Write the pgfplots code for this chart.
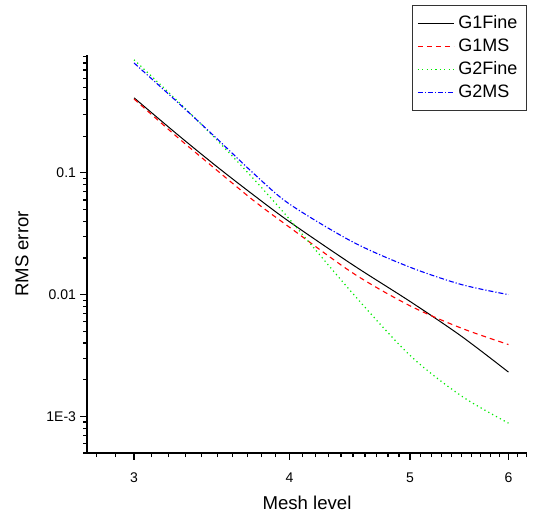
\documentclass[border=0pt]{standalone}
\usepackage{fontspec}
\setmainfont{Liberation Sans}
\usepackage{pgfplots}
\pgfplotsset{compat=1.18}

\definecolor{cred}{RGB}{255,0,0}
\definecolor{cgreen}{RGB}{0,235,0}
\definecolor{cblue}{RGB}{0,0,255}

% RMS error per mesh level
\pgfplotstableread{
x     g1fine   g1ms     g2fine   g2ms
3     0.414    0.405    0.85     0.80
3.25  0.2075   0.197    0.392    0.383
3.5   0.112    0.1045   0.185    0.190
3.75  0.0649   0.0585   0.0877   0.0975
4     0.0397   0.0358   0.0417   0.0555
4.5   0.0175   0.0150   0.01016  0.027
5     0.0088   0.0081   0.00317  0.0168
5.5   0.00455  0.0053   0.00147  0.0121
6     0.00231  0.00389  0.00088  0.0100
}\rmsdata

\begin{document}
\begin{tikzpicture}
\begin{axis}[
  scale only axis,
  width=220pt, height=199pt,
  xmode=log, ymode=log,
  xmin=2.75, xmax=6.21,
  ymin=5e-4, ymax=0.93,
  axis x line*=bottom, axis y line*=left,
  axis line style={line width=0.75pt, -},
  xtick={3,4,5,6}, xticklabels={3,4,5,6},
  minor xtick={2.8,2.9,3.1,3.2,3.3,3.4,3.5,3.6,3.7,3.8,3.9,
    4.1,4.2,4.3,4.4,4.5,4.6,4.7,4.8,4.9,
    5.1,5.2,5.3,5.4,5.5,5.6,5.7,5.8,5.9,6.1,6.2},
  ytick={0.001,0.01,0.1}, yticklabels={1E-3,0.01,0.1},
  minor ytick={5e-4,6e-4,7e-4,8e-4,9e-4,
    2e-3,3e-3,4e-3,5e-3,6e-3,7e-3,8e-3,9e-3,
    0.02,0.03,0.04,0.05,0.06,0.07,0.08,0.09,
    0.2,0.3,0.4,0.5,0.6,0.7,0.8,0.9},
  tick align=outside,
  major tick length=3.5pt, minor tick length=2pt,
  tick style={line width=0.6pt, black},
  ticklabel style={font=\fontsize{7}{8}\selectfont},
  xticklabel style={yshift=-3pt},
  yticklabel style={xshift=1.5pt},
  /pgf/number format/assume math mode=true,
  xlabel={Mesh level}, ylabel={RMS error},
  label style={font=\fontsize{9.3}{11}\selectfont},
  xlabel style={at={(axis description cs:0.5,-0.1256)}, anchor=center},
  ylabel style={at={(axis description cs:-0.1477,0.5)}, anchor=center, rotate=0},
  legend style={at={(1,1)}, anchor=north east, yshift=25pt,
    draw=black!80, line width=0.6pt, fill=white,
    font=\fontsize{9}{11}\selectfont, row sep=-0.4pt,
    inner xsep=2.5pt, inner ysep=3pt},
  legend cell align=left,
  legend image code/.code={\draw[#1] (0pt,0pt) -- (18pt,0pt);},
]
\addplot[black, line width=0.5pt, smooth] table[x=x, y=g1fine] {\rmsdata};
\addlegendentry{G1Fine}
\addplot[cred, line width=0.55pt, smooth, dash pattern=on 2.5pt off 2pt] table[x=x, y=g1ms] {\rmsdata};
\addlegendentry{G1MS}
\addplot[cgreen, line width=0.6pt, smooth, dash pattern=on 0.6pt off 1.6pt] table[x=x, y=g2fine] {\rmsdata};
\addlegendentry{G2Fine}
\addplot[cblue, line width=0.55pt, smooth, dash pattern=on 2.5pt off 1pt on 0.6pt off 1pt] table[x=x, y=g2ms] {\rmsdata};
\addlegendentry{G2MS}
\coordinate (sw) at (rel axis cs:0,0);
\coordinate (ne) at (rel axis cs:1,1);
\end{axis}
\pgfresetboundingbox
\path ([shift={(-43.5pt,-32pt)}]sw) rectangle ([shift={(3pt,27.5pt)}]ne);
\end{tikzpicture}
\end{document}
